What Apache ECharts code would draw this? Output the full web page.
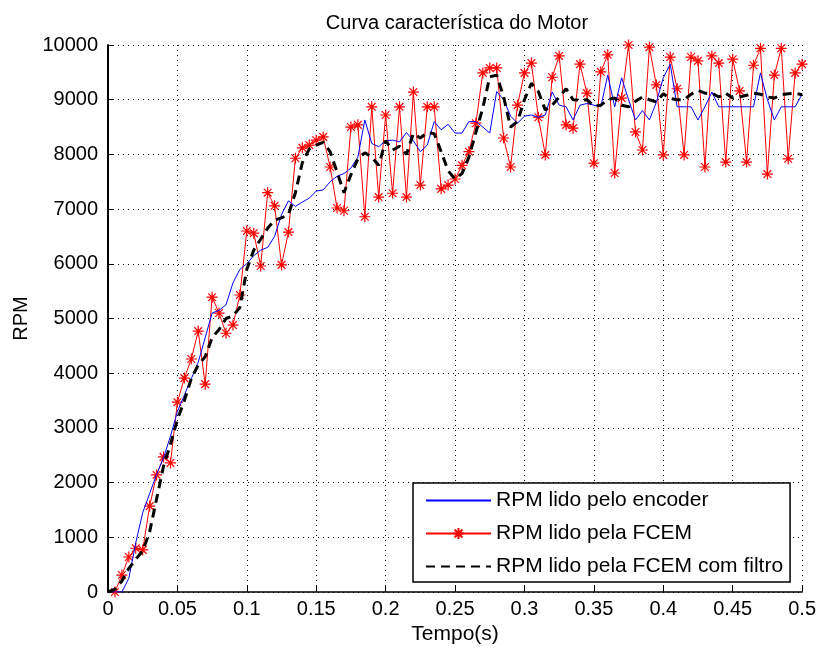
<!DOCTYPE html>
<html>
<head>
<meta charset="utf-8">
<script src="https://cdn.jsdelivr.net/npm/echarts@6/dist/echarts.min.js"></script>
<style>html,body{margin:0;padding:0;background:#fff}#c{width:819px;height:653px}</style>
</head>
<body>
<div id="c"></div>
<script>
var titleText = "Curva característica do Motor";
var xName = "Tempo(s)";
var yName = "RPM";
var seriesNames = ["RPM lido pelo encoder", "RPM lido pela FCEM", "RPM lido pela FCEM com filtro"];

var time = [0,0.005,0.01,0.015,0.02,0.025,0.03,0.035,0.04,0.045,0.05,0.055,0.06,0.065,0.07,0.075,0.08,0.085,0.09,0.095,
0.1,0.105,0.11,0.115,0.12,0.125,0.13,0.135,0.14,0.145,0.15,0.155,0.16,0.165,0.17,0.175,0.18,0.185,0.19,0.195,
0.2,0.205,0.21,0.215,0.22,0.225,0.23,0.235,0.24,0.245,0.25,0.255,0.26,0.265,0.27,0.275,0.28,0.285,0.29,0.295,
0.3,0.305,0.31,0.315,0.32,0.325,0.33,0.335,0.34,0.345,0.35,0.355,0.36,0.365,0.37,0.375,0.38,0.385,0.39,0.395,
0.4,0.405,0.41,0.415,0.42,0.425,0.43,0.435,0.44,0.445,0.45,0.455,0.46,0.465,0.47,0.475,0.48,0.485,0.49,0.495,0.5];

var encoder = [0,0,0,250,900,1450,1800,2150,2450,2850,3300,3600,3900,4200,4650,5100,5150,5250,5650,5900,
6000,6150,6250,6300,6500,6900,7150,7050,7130,7200,7330,7350,7500,7600,7650,7750,7950,8630,8200,8140,
8250,8260,8230,8400,8250,8050,8170,8600,8450,8550,8390,8390,8600,8600,8500,8390,9150,9000,8700,8570,
8700,8720,8680,8720,9140,8900,8870,8630,8900,8930,8900,8870,9450,8870,9400,9000,8630,8800,8630,8950,
9400,9650,8870,8870,8870,8630,8870,9140,8870,8870,8870,8870,8870,8870,9490,9000,8630,8870,8870,8870,9100];

var fcem = [0,310,640,800,770,1570,2140,2470,2360,3470,3910,4260,4770,3800,5390,5100,4730,4880,5430,6600,
6560,5960,7300,7060,5980,6580,7930,8120,8170,8260,8320,7770,7020,6970,8500,8540,6860,8870,7220,8720,
7290,8870,7220,9140,7440,8870,8870,7370,7440,7550,7800,8050,8570,9490,9580,9580,8300,7770,8900,9490,
9670,8680,7990,9410,9800,8540,8480,9650,9120,7840,9510,9820,7660,9030,10000,8410,8080,9960,9270,7990,
9780,9200,7990,9780,9710,7770,9800,9670,7860,9740,9160,7860,9630,9940,7640,9450,9940,7920,9490,9650];

var filtro = [0,50,200,430,600,750,1100,1700,2300,2700,3150,3500,3900,4150,4300,4650,4800,5000,5050,5200,
5900,6250,6450,6650,6800,6840,6900,7300,7850,8100,8170,8220,8050,7680,7300,7630,7920,8030,7950,7800,
8250,8080,8150,8000,8380,8300,8400,8380,8050,7700,7550,7650,7950,8400,8850,9420,9450,9050,8500,8600,
9000,9300,9150,8810,8900,9050,9200,9000,8990,9000,8880,8900,9000,9030,8900,8870,8970,9050,9000,8960,
9110,9020,9000,9000,9100,9170,9120,9120,9050,9120,9030,9050,9080,9120,9100,9050,9030,9090,9110,9120,9090];

var xTicks = [0,0.05,0.1,0.15,0.2,0.25,0.3,0.35,0.4,0.45,0.5];

function pairs(vals, offset) {
  return vals.map(function (v, i) { return [time[i + offset], v]; });
}

var FONT = 'Liberation Sans, Arial, sans-serif';
var asterisk = 'path://M0,5L10,5M5,0L5,10M1.5,1.5L8.5,8.5M8.5,1.5L1.5,8.5';

var chart = echarts.init(document.getElementById('c'), null, {renderer: 'canvas'});
chart.setOption({
  animation: false,
  backgroundColor: '#fff',
  title: {
    text: titleText, left: 452, top: 8, textAlign: 'center',
    textStyle: {fontFamily: FONT, fontSize: 20, fontWeight: 'normal', color: '#000'}
  },
  grid: {left: 108, right: 16, top: 45, bottom: 61, containLabel: false},
  xAxis: {
    type: 'value', min: 0, max: 0.5, interval: 0.05,
    name: xName, nameLocation: 'middle', nameGap: 30,
    nameTextStyle: {fontFamily: FONT, fontSize: 21, color: '#000'},
    axisLine: {show: true, onZero: false, lineStyle: {color: '#000', width: 1.5}},
    axisTick: {show: true, inside: true, length: 6, lineStyle: {color: '#000'}},
    axisLabel: {fontFamily: FONT, fontSize: 20, color: '#000', margin: 7,
      formatter: function (v) { var r = Math.round(v * 100) / 100; return xTicks.indexOf(r) >= 0 ? String(r) : ''; }},
    splitLine: {show: true, lineStyle: {color: '#000', type: [1, 4], width: 1}}
  },
  yAxis: {
    type: 'value', min: 0, max: 10000, interval: 1000,
    name: yName, nameLocation: 'middle', nameGap: 74, nameRotate: 90,
    nameTextStyle: {fontFamily: FONT, fontSize: 20, color: '#000'},
    axisLine: {show: true, lineStyle: {color: '#000', width: 2}},
    axisTick: {show: true, inside: true, length: 6, lineStyle: {color: '#000'}},
    axisLabel: {fontFamily: FONT, fontSize: 20, color: '#000', margin: 10,
      formatter: function (v) { return String(v); }},
    splitLine: {show: true, lineStyle: {color: '#000', type: [1, 4], width: 1}}
  },
  legend: {
    orient: 'vertical', left: 413, top: 483,
    padding: [7, 7, 5, 12], itemGap: 12, itemWidth: 65, itemHeight: 14,
    backgroundColor: '#fff', borderColor: '#000', borderWidth: 1.5,
    textStyle: {fontFamily: FONT, fontSize: 21, color: '#000', lineHeight: 21},
    data: [
      {name: seriesNames[0], itemStyle: {opacity: 0}},
      {name: seriesNames[1]},
      {name: seriesNames[2], itemStyle: {opacity: 0}}
    ]
  },
  series: [
    {
      name: seriesNames[0], type: 'line', data: pairs(encoder, 0),
      showSymbol: false, symbol: 'none', lineStyle: {color: '#0000ff', width: 1}, itemStyle: {color: '#0000ff'}, z: 3
    },
    {
      name: seriesNames[1], type: 'line', data: pairs(fcem, 1),
      symbol: asterisk, symbolSize: 11, showAllSymbol: true,
      lineStyle: {color: '#ff0000', width: 1},
      itemStyle: {color: '#ff0000', borderColor: '#ff0000', borderWidth: 1.2}, z: 2
    },
    {
      name: seriesNames[2], type: 'line', data: pairs(filtro, 0),
      showSymbol: false, symbol: 'none',
      lineStyle: {color: '#000', width: 3, type: [9, 6]}, itemStyle: {color: '#000'}, z: 4
    }
  ]
});
</script>
</body>
</html>
